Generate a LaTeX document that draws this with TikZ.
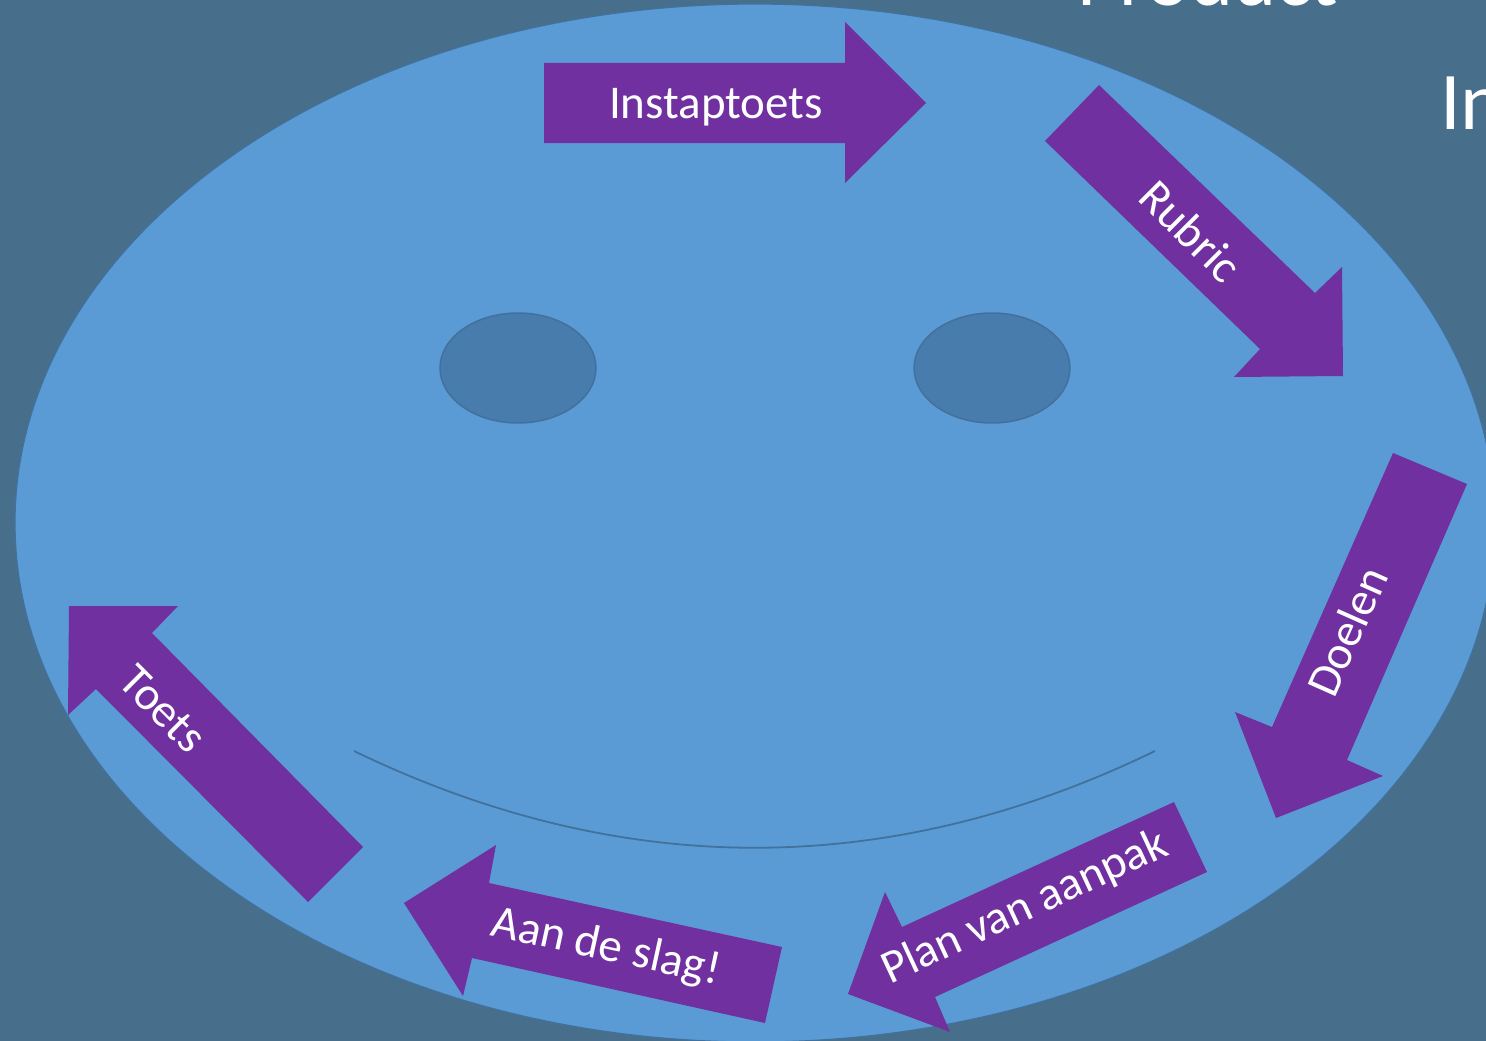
\documentclass[tikz,border=0pt]{standalone}
\usepackage{fontspec}
\setmainfont{Carlito}
\definecolor{bgc}{HTML}{476F8B}
\definecolor{facec}{HTML}{5B9BD5}
\definecolor{facel}{HTML}{41719C}
\definecolor{eyec}{HTML}{487CAD}
\definecolor{purp}{HTML}{7030A0}
\tikzset{
  arrowshape/.style={fill=purp},
  lbl/.style={text=white, font=\fontsize{47}{56}\selectfont, inner sep=0pt},
  bigtxt/.style={text=white, font=\fontsize{82}{98}\selectfont, inner sep=0pt, anchor=base west},
  eyestyle/.style={fill=eyec, draw=facel, line width=1.5pt}
}
\begin{document}
\begin{tikzpicture}[x=1pt,y=-1pt]
\useasboundingbox (0,0) rectangle (1486,1041);
\begin{scope}
\clip (0,0) rectangle (1486,1041);
\fill[bgc] (0,0) rectangle (1486,1041);
\node[bigtxt] (prod) at (1077,6) {Product};
\node[bigtxt] (inn) at (1440,129) {In};
\draw[fill=facec, draw=facel, line width=1.2pt] (755,523) ellipse [x radius=740, y radius=519];
% eyes
\draw[eyestyle] (518,368) ellipse [x radius=78, y radius=55];
\draw[eyestyle] (992,368) ellipse [x radius=78, y radius=55];
% smile
\coordinate (smL) at (354,751);
\coordinate (smR) at (1155,751);
\draw[facel, line width=1.8pt] (smL) .. controls (621,880) and (889,880) .. (smR);
% Instaptoets
\fill[arrowshape] (544,63) -- (845,63) -- (845,22) -- (926,103) -- (845,183) -- (845,143) -- (544,143) -- cycle;
\node[lbl] (a1) at (716,107) {Instaptoets};
% Rubric
\fill[arrowshape] (1099,85) -- (1315,293) -- (1342,267) -- (1343,376) -- (1234,377) -- (1260,349) -- (1045,141) -- cycle;
\node[lbl, rotate=-45] (a2) at (1191,231) {Rubric};
% Doelen
\fill[arrowshape] (1393,453) -- (1467,484) -- (1347,760) -- (1383,776) -- (1276,818) -- (1235,712) -- (1272,727) -- cycle;
\node[lbl, rotate=66] (a3) at (1347,631) {Doelen};
% Plan van aanpak
\fill[arrowshape] (1174,802) -- (1207,872) -- (935,997) -- (950,1032) -- (848,994) -- (885,892) -- (902,927) -- cycle;
\node[lbl, rotate=25] (a4) at (1025,908) {Plan van aanpak};
% Aan de slag!
\fill[arrowshape] (782,947) -- (765,1023) -- (472,958) -- (463,996) -- (404,903) -- (496,845) -- (489,883) -- cycle;
\node[lbl, rotate=-12.3] (a5) at (606,948) {Aan de slag!};
% Toets
\fill[arrowshape] (363,847) -- (308,902) -- (96,689) -- (68,715) -- (69,606) -- (178,606) -- (152,633) -- cycle;
\node[lbl, rotate=-45] (a6) at (163,709) {Toets};
\end{scope}
\end{tikzpicture}
\end{document}
